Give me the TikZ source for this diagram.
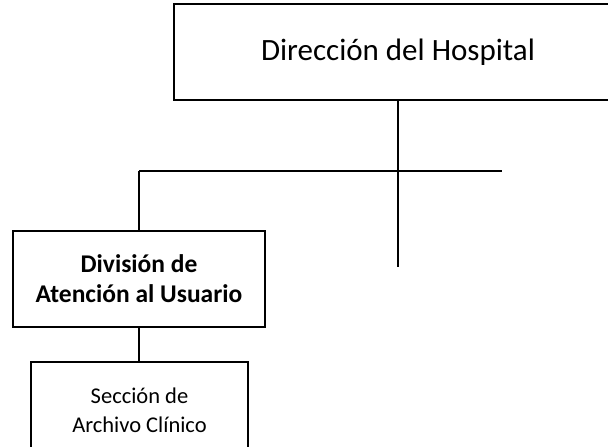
\documentclass[tikz,border=0pt]{standalone}
\usepackage{fontspec}
\setmainfont{Carlito}
\begin{document}
\begin{tikzpicture}[x=1pt,y=1pt,
  orgbox/.style={draw=black, line width=2.5pt, fill=white, align=center, inner sep=0pt},
  conn/.style={draw=black, line width=2.5pt}]
\useasboundingbox (0,0) rectangle (608,-447);
\begin{scope}
\clip (0,0) rectangle (608,-447);
\node[orgbox, minimum width=448, minimum height=96, font=\fontsize{31}{36}\selectfont] (dir) at (398,-52) {Dirección del Hospital};
\node[orgbox, minimum width=252, minimum height=96, font=\bfseries\fontsize{25.5}{30}\selectfont] (div) at (139,-279) {División de\\Atención al Usuario};
\node[orgbox, minimum width=217, minimum height=96, font=\fontsize{22.5}{29}\selectfont] (sec) at (139.5,-410) {Sección de\\Archivo Clínico};
\coordinate (vbot) at (dir.south |- 0,-267);
\coordinate (hl) at (div.north |- 0,-171);
\coordinate (hr) at (502,-171);
\draw[conn] (dir.south) -- (vbot);
\draw[conn] (hl) -- (hr);
\draw[conn] (hl) -- (div.north);
\draw[conn] (div.south) -- (div.south |- sec.north);
\end{scope}
\end{tikzpicture}
\end{document}
